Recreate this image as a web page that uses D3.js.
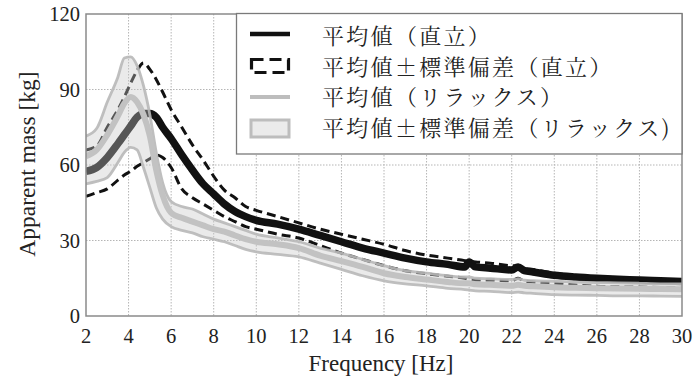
<!DOCTYPE html>
<html><head><meta charset="utf-8">
<script src="https://cdn.jsdelivr.net/npm/d3@7/dist/d3.min.js"></script>
<style>
html,body{margin:0;padding:0;background:#fff;}
svg{display:block;}
</style></head>
<body><svg id="chart" width="699" height="382"></svg>
<script>
// ---- data ----
const freq = [2, 2.5, 3, 3.5, 3.8, 4.1, 4.4, 4.7, 5.0, 5.3, 5.6, 6, 6.5, 7, 7.5, 8, 8.5, 9, 9.5, 10, 11, 12, 13, 14, 15, 16, 17, 18, 19, 19.8, 20, 20.3, 21, 22, 22.3, 22.6, 23, 24, 25, 26, 27, 28, 29, 30];
const uprightMean = [57.5, 59, 63, 68.5, 72, 75.5, 79, 80.5, 80.5, 79, 75, 70.5, 64, 58, 52.5, 48.5, 44.5, 41.5, 39.5, 38, 36.5, 34.5, 32, 29.5, 27, 25, 23, 21.5, 20.5, 19.5, 21.5, 19.5, 19, 18.3, 19.5, 18, 17.5, 16.2, 15.5, 15, 14.6, 14.3, 14, 13.7];
const uprightUpper = [66, 67.5, 75, 82, 87, 92.5, 97.5, 100.5, 98, 94, 89, 82, 75, 68, 62, 55.5, 50, 47, 43.5, 42, 39.5, 37, 34.5, 32.5, 30.5, 28.5, 26, 24.2, 23, 22, 21.8, 21.5, 21, 20, 20, 19, 18.5, 17, 16, 15.3, 15, 14.7, 14.5, 14.2];
const uprightLower = [47.5, 49, 50.5, 54, 56, 57.5, 59.5, 61, 62.5, 64, 63, 59, 50.5, 47, 44.5, 42, 39.5, 37.5, 35.5, 34.5, 32.5, 31, 28, 25, 22.5, 20, 18, 16.8, 15.8, 15, 14.5, 14.3, 14.3, 14, 15, 13.8, 13.5, 13, 12.3, 11.8, 11.6, 11.5, 11.3, 11];
const relaxUpper = [71.5, 74.5, 85, 95, 102.5, 103, 99.5, 91.5, 80, 65, 53, 45.5, 43.5, 42.5, 40.5, 38.5, 37, 35.5, 34, 32.5, 31, 29.5, 27, 25, 22.5, 20, 18, 17, 16, 15.5, 15.5, 15, 14.8, 14.5, 14.8, 14.2, 14, 13.8, 13.5, 13.3, 13.2, 13, 12.8, 12.8];
const relaxMean = [63.5, 66, 72, 79.5, 84.5, 87, 85, 80, 71.5, 58, 48, 41, 39, 37.5, 36, 34.5, 33.5, 32, 30.5, 29.5, 28.5, 27, 24, 21.8, 19.5, 17, 15.5, 14.5, 13.5, 13, 13, 12.6, 12.4, 12, 12.4, 12, 11.8, 11.4, 11.2, 11, 10.9, 10.8, 10.7, 10.6];
const relaxLower = [52.5, 53.5, 55, 61, 65, 67, 66, 59, 51, 43, 38.5, 35.5, 34, 33, 31.5, 30.5, 29.5, 28, 26.5, 25.5, 24.5, 23.5, 21, 18.5, 16, 14, 12.8, 12, 11, 10.5, 10.3, 10, 9.8, 9.3, 9.5, 9.2, 9, 8.5, 8.3, 8.2, 8.0, 8.0, 7.9, 7.8];
const xTicks = [2, 4, 6, 8, 10, 12, 14, 16, 18, 20, 22, 24, 26, 28, 30];
const yTicks = [0, 30, 60, 90, 120];
const legendLabels = ["平均値（直立）", "平均値±標準偏差（直立）", "平均値（リラックス）", "平均値±標準偏差（リラックス)"];
const xTitle = "Frequency [Hz]";
const yTitle = "Apparent mass [kg]";

// ---- layout ----
const svg = d3.select("#chart");
const L = 86, R = 682, T = 14, B = 316;
const x = d3.scaleLinear().domain([2, 30]).range([L, R]);
const y = d3.scaleLinear().domain([0, 120]).range([B, T]);
const serif = "'Liberation Serif','Times New Roman',serif";

// grid
const g = svg.append("g");
g.selectAll(".vg").data(xTicks.slice(1, -1)).enter().append("line")
  .attr("x1", d => x(d)).attr("x2", d => x(d)).attr("y1", T).attr("y2", B)
  .attr("stroke", "#b5b5b5").attr("stroke-width", 1).attr("stroke-dasharray", "1.5,1.5");
g.selectAll(".hg").data(yTicks.slice(1, -1)).enter().append("line")
  .attr("y1", d => y(d)).attr("y2", d => y(d)).attr("x1", L).attr("x2", R)
  .attr("stroke", "#b5b5b5").attr("stroke-width", 1).attr("stroke-dasharray", "1.5,1.5");

const pts = vals => freq.map((f, i) => [f, vals[i]]);
const line = d3.line().x(d => x(d[0])).y(d => y(d[1])).curve(d3.curveMonotoneX);
const area = d3.area().x(d => x(d.f)).y0(d => y(d.lo)).y1(d => y(d.hi)).curve(d3.curveMonotoneX);

svg.append("clipPath").attr("id", "clip").append("rect")
  .attr("x", L).attr("y", T).attr("width", R - L).attr("height", B - T);
const plot = svg.append("g").attr("clip-path", "url(#clip)");

// upright lines
plot.append("path").attr("d", line(pts(uprightMean))).attr("fill", "none")
  .attr("stroke", "#111").attr("stroke-width", 7.5).attr("stroke-linejoin", "round");
[uprightUpper, uprightLower].forEach(v => {
  plot.append("path").attr("d", line(pts(v))).attr("fill", "none")
    .attr("stroke", "#111").attr("stroke-width", 3).attr("stroke-dasharray", "9,5");
});

// relax band
const band = freq.map((f, i) => ({f, lo: relaxLower[i], hi: relaxUpper[i]}));
plot.append("path").attr("d", area(band)).attr("fill", "#c8c8c8").attr("fill-opacity", 0.38);
[relaxUpper, relaxLower].forEach(v => {
  plot.append("path").attr("d", line(pts(v))).attr("fill", "none")
    .attr("stroke", "#b8b8b8").attr("stroke-width", 2.8).attr("stroke-opacity", 0.9);
});
plot.append("path").attr("d", line(pts(relaxMean))).attr("fill", "none")
  .attr("stroke", "#c2c2c2").attr("stroke-width", 6).attr("stroke-linejoin", "round");

// frame
svg.append("rect").attr("x", L).attr("y", T).attr("width", R - L).attr("height", B - T)
  .attr("fill", "none").attr("stroke", "#8a8a8a").attr("stroke-width", 1.5);

// tick labels
svg.selectAll(".xt").data(xTicks).enter().append("text")
  .attr("x", d => x(d)).attr("y", 343).attr("text-anchor", "middle")
  .attr("font-family", serif).attr("font-size", 20.5).attr("fill", "#222").text(d => d);
svg.selectAll(".yt").data(yTicks).enter().append("text")
  .attr("x", 80).attr("y", d => y(d)).attr("dy", "0.35em").attr("text-anchor", "end")
  .attr("font-family", serif).attr("font-size", 20.5).attr("fill", "#222").text(d => d);

// titles
svg.append("text").attr("x", 381).attr("y", 371).attr("text-anchor", "middle")
  .attr("font-family", serif).attr("font-size", 23).attr("fill", "#222").text(xTitle);
svg.append("text").attr("transform", "translate(35,164) rotate(-90)").attr("text-anchor", "middle")
  .attr("font-family", serif).attr("font-size", 23.5).attr("fill", "#222").text(yTitle);

// legend
const lg = svg.append("g");
lg.append("rect").attr("x", 236.5).attr("y", 13.5).attr("width", R - 236.5).attr("height", 140.5)
  .attr("fill", "#fff").attr("stroke", "#7a7a7a").attr("stroke-width", 1.3);
const rowsY = [36, 66.5, 97, 128];
const sx1 = 250, sx2 = 290;
lg.append("line").attr("x1", sx1).attr("x2", sx2).attr("y1", rowsY[0] - 2).attr("y2", rowsY[0] - 2)
  .attr("stroke", "#111").attr("stroke-width", 4.5);
lg.append("rect").attr("x", sx1 + 1.5).attr("y", rowsY[1] - 7).attr("width", sx2 - sx1 - 3).attr("height", 13)
  .attr("fill", "none").attr("stroke", "#111").attr("stroke-width", 3.2).attr("stroke-dasharray", "12,6");
lg.append("line").attr("x1", sx1).attr("x2", sx2).attr("y1", rowsY[2]).attr("y2", rowsY[2])
  .attr("stroke", "#bdbdbd").attr("stroke-width", 4);
lg.append("rect").attr("x", sx1 + 1).attr("y", rowsY[3] - 8).attr("width", sx2 - sx1 - 2).attr("height", 17)
  .attr("fill", "#ebebeb").attr("stroke", "#bdbdbd").attr("stroke-width", 3);
lg.selectAll(".lt").data(legendLabels).enter().append("text")
  .attr("x", 322).attr("y", (d, i) => rowsY[i] + 8)
  .attr("font-family", "'Noto Serif CJK JP','Noto Sans CJK JP',sans-serif")
  .attr("font-size", 22).attr("letter-spacing", 2.3).attr("fill", "#222").text(d => d);
</script>
</body></html>
